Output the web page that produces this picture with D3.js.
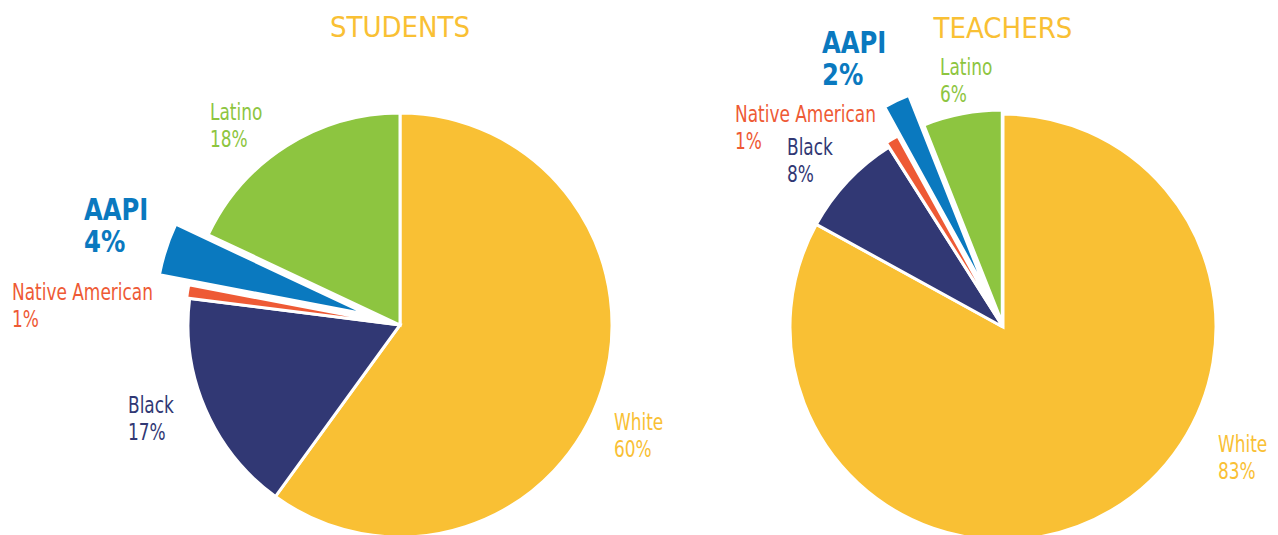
<!DOCTYPE html>
<html>
<head>
<meta charset="utf-8">
<script src="https://cdn.jsdelivr.net/npm/d3@7"></script>
<style>
    html, body { margin: 0; padding: 0; background: #fff; }
    svg { display: block; }
    text { font-family: "Liberation Sans Narrow", "DejaVu Sans Condensed", "Roboto Condensed", Roboto, sans-serif; }
</style>
</head>
<body>
<svg id="chart" width="1278" height="535"></svg>
<script>
// data
const groups = ["STUDENTS", "TEACHERS"];
const categories = ["White", "Black", "Native American", "AAPI", "Latino"];
const studentShares = [60, 17, 1, 4, 18];
const teacherShares = [83, 8, 1, 2, 6];

const colors = {
    "White": "#F9C034",
    "Black": "#313874",
    "Native American": "#EE5A35",
    "AAPI": "#0A79BF",
    "Latino": "#8DC540"
};

// layout for each pie: center, radius, how far slices are pulled out, label spots
const layouts = [
    {
        cx: 400, cy: 325, r: 212, titleY: 37,
        explode: {"White": 0, "Black": 0, "Native American": 3, "AAPI": 34, "Latino": 0},
        labels: {
            "White": [614, 430],
            "Black": [128, 413],
            "Native American": [12, 300],
            "AAPI": [84, 220],
            "Latino": [210, 120]
        }
    },
    {
        cx: 1003, cy: 327, r: 213, titleY: 38,
        explode: {"White": 0, "Black": 0, "Native American": 5, "AAPI": 37, "Latino": 4},
        labels: {
            "White": [1218, 452],
            "Black": [787, 155],
            "Native American": [735, 122],
            "AAPI": [822, 53],
            "Latino": [940, 75]
        }
    }
];

const svg = d3.select("#chart");

function drawPie(title, shares, layout) {
    var data = categories.map(function(c, i) {
        return {"category": c, "value": shares[i]};
    });

    var pie = d3.pie().sort(null).value(function(d) { return d.value; });
    var arc = d3.arc().innerRadius(0).outerRadius(layout.r);

    var g = svg.append("g")
        .attr("transform", "translate(" + layout.cx + "," + layout.cy + ")");

    g.selectAll("path")
        .data(pie(data))
        .enter()
        .append("path")
        .attr("d", arc)
        .attr("fill", function(d) { return colors[d.data.category]; })
        .attr("stroke", "#fff")
        .attr("stroke-width", 3)
        .attr("stroke-linejoin", "miter")
        .attr("transform", function(d) {
            var off = layout.explode[d.data.category];
            var mid = (d.startAngle + d.endAngle) / 2;
            return "translate(" + (off * Math.sin(mid)) + "," + (-off * Math.cos(mid)) + ")";
        });

    svg.append("text")
        .attr("x", layout.cx)
        .attr("y", layout.titleY)
        .attr("text-anchor", "middle")
        .style("font-size", "29px")
        .style("fill", "#F9C034")
        .text(title);

    data.forEach(function(d) {
        var pos = layout.labels[d.category];
        var big = d.category === "AAPI";
        // the original face is narrower than anything installed, so squeeze it
        var lg = svg.append("g")
            .attr("transform", "translate(" + pos[0] + "," + pos[1] + ") scale(" + (big ? 0.9 : 0.82) + ",1)");
        var t = lg.append("text")
            .style("fill", colors[d.category])
            .style("font-size", big ? "30px" : "23px")
            .style("font-weight", big ? "bold" : "normal");
        t.append("tspan")
            .attr("x", 0).attr("y", 0)
            .text(d.category);
        t.append("tspan")
            .attr("x", 0).attr("y", big ? 32 : 27)
            .text(d.value + "%");
    });
}

drawPie(groups[0], studentShares, layouts[0]);
drawPie(groups[1], teacherShares, layouts[1]);
</script>
</body>
</html>
